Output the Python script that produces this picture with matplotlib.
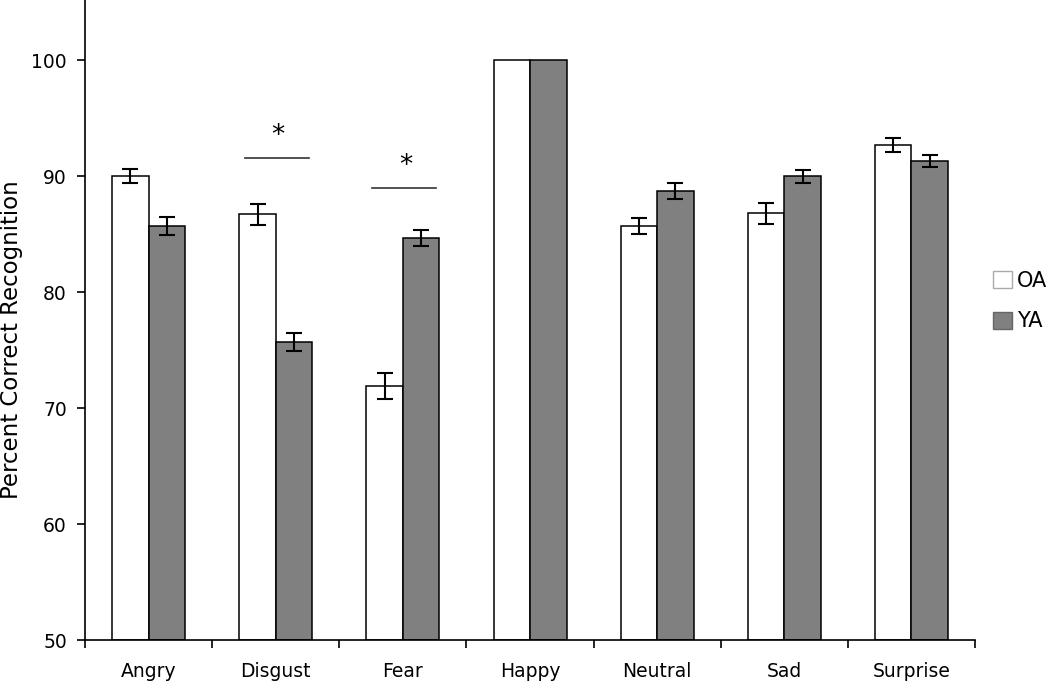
import numpy as np
import matplotlib.pyplot as plt
from matplotlib.patches import Patch

# ----------------------------------------------------------------
#  DATA
# ----------------------------------------------------------------
emotions = ['Angry', 'Disgust', 'Fear', 'Happy', 'Neutral', 'Sad', 'Surprise']
oa_mean = [90.0, 86.7, 71.9, 100.0, 85.7, 86.8, 92.7]
oa_err  = [0.6, 0.9, 1.1, 0.0, 0.7, 0.9, 0.6]
ya_mean = [85.7, 75.7, 84.7, 100.0, 88.7, 90.0, 91.3]
ya_err  = [0.75, 0.8, 0.7, 0.0, 0.7, 0.55, 0.5]

# significance markers: category index, line height, star height
sig_idx   = [1, 2]
sig_line  = [91.55, 89.0]
sig_star  = [93.5, 90.9]

# ----------------------------------------------------------------
#  PLOT
# ----------------------------------------------------------------
fig = plt.figure(figsize=(10.5, 6.81), dpi=100)
ax = fig.add_axes([0.081, 0.0602, 0.8476, 0.9398])

x = np.arange(len(emotions))
w = 0.287
err_kw = dict(ecolor='black', elinewidth=1.5, capsize=5.5, capthick=1.5)

oa_yerr = [e if e > 0 else np.nan for e in oa_err]
ya_yerr = [e if e > 0 else np.nan for e in ya_err]

ax.bar(x - w/2, np.array(oa_mean) - 50, w, bottom=50, color='white',
       edgecolor='black', linewidth=1.1, yerr=oa_yerr, error_kw=err_kw)
ax.bar(x + w/2, np.array(ya_mean) - 50, w, bottom=50, color='#808080',
       edgecolor='black', linewidth=1.1, yerr=ya_yerr, error_kw=err_kw)

for i, yl, ys in zip(sig_idx, sig_line, sig_star):
    ax.plot([i - 0.24, i + 0.26], [yl, yl], color='#333333', lw=1.2)
    ax.text(i + 0.02, ys, '*', ha='center', va='center', fontsize=19)

ax.set_xlim(-0.5, len(emotions) - 0.5)
ax.set_ylim(50, 105.2)
ax.set_yticks(range(50, 101, 10))

ax.set_xticks(x)
ax.set_xticklabels(emotions, fontsize=13.5)
ax.tick_params(axis='x', which='major', length=0, pad=16)
ax.set_xticks(np.arange(-0.5, len(emotions)), minor=True)
ax.tick_params(axis='x', which='minor', length=6, width=1.2, direction='out')
ax.tick_params(axis='y', labelsize=13.5, length=6, width=1.2,
               direction='out', pad=7)

for side in ['top', 'right']:
    ax.spines[side].set_visible(False)
for side in ['left', 'bottom']:
    ax.spines[side].set_linewidth(1.2)

# y axis title placed in figure coordinates
fig.text(12 / 1050, 1 - 340 / 681, 'Percent Correct Recognition',
         rotation=90, ha='center', va='center', fontsize=16.5)

handles = [Patch(facecolor='white', edgecolor='#aaaaaa', label='OA'),
           Patch(facecolor='#808080', edgecolor='#666666', label='YA')]
fig.legend(handles=handles, loc='center left', bbox_to_anchor=(0.928, 0.558),
           frameon=False, fontsize=15, handlelength=0.9, handleheight=0.9,
           handletextpad=0.25, labelspacing=1.0)

plt.savefig('out.png', dpi=100)
